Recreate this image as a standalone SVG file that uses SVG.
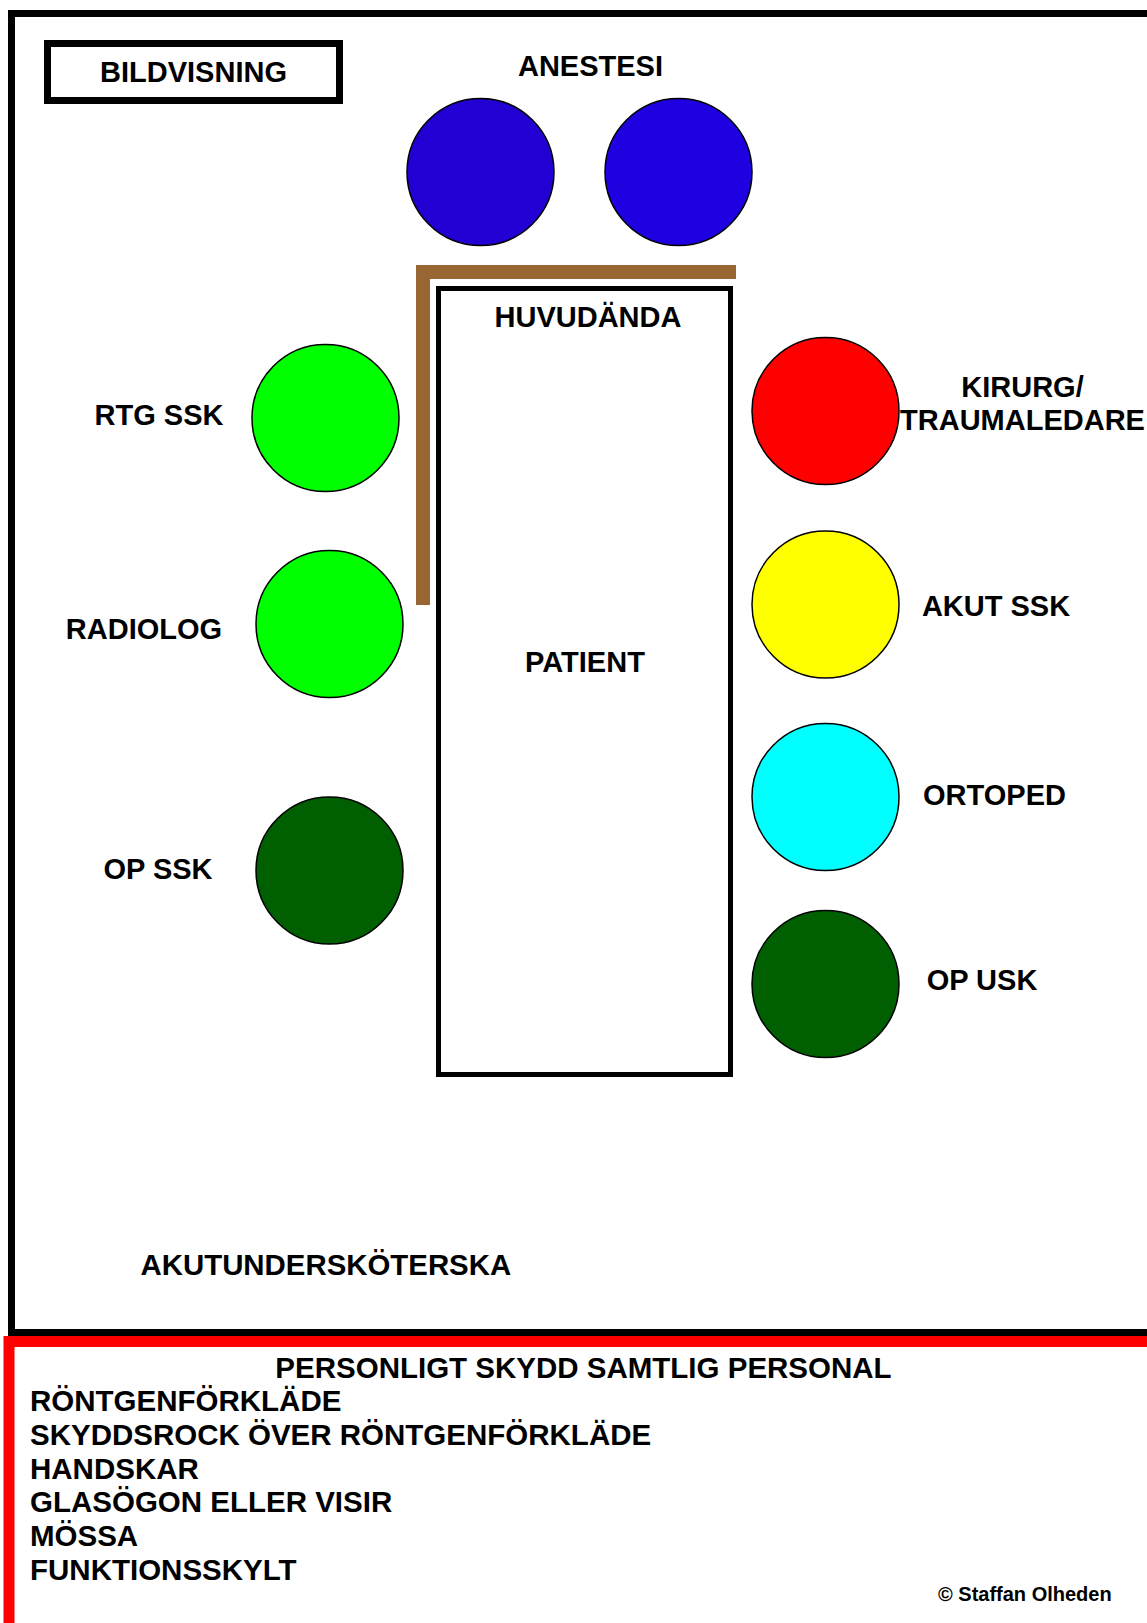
<svg xmlns="http://www.w3.org/2000/svg" width="1147" height="1623" viewBox="0 0 1147 1623">
<style>
text{font-family:"Liberation Sans",Arial,sans-serif;font-weight:bold;font-size:29px;fill:#000}
.m{text-anchor:middle}
.l{font-size:29.5px}
.p{stroke:#000;stroke-width:1.5}
</style>
<rect width="1147" height="1623" fill="#fff"/>
<g id="frame">
<rect x="11.5" y="13.5" width="1160" height="1319" fill="none" stroke="#000" stroke-width="7"/>
</g>
<g id="protection">
<rect x="9" y="1341.5" width="1160" height="320" fill="none" stroke="#ff0000" stroke-width="11"/>
<text class="m l" x="583.5" y="1378">PERSONLIGT SKYDD SAMTLIG PERSONAL</text>
<text class="l" x="30" y="1411">RÖNTGENFÖRKLÄDE</text>
<text class="l" x="30" y="1445">SKYDDSROCK ÖVER RÖNTGENFÖRKLÄDE</text>
<text class="l" x="30" y="1479">HANDSKAR</text>
<text class="l" x="30" y="1512">GLASÖGON ELLER VISIR</text>
<text class="l" x="30" y="1546">MÖSSA</text>
<text class="l" x="30" y="1580">FUNKTIONSSKYLT</text>
<text x="938" y="1601" style="font-size:20px">© Staffan Olheden</text>
</g>
<g id="bildvisning">
<rect x="47.5" y="43.5" width="292" height="57" fill="#fff" stroke="#000" stroke-width="7"/>
<text class="m" x="193.5" y="82">BILDVISNING</text>
</g>
<g id="anestesi">
<text class="m" x="590.5" y="76">ANESTESI</text>
<circle class="p" cx="480.5" cy="172" r="73.5" fill="#2200d4"/>
<circle class="p" cx="678.5" cy="172" r="73.5" fill="#1e00e0"/>
</g>
<g id="screen">
<polyline points="423,605 423,272 736,272" fill="none" stroke="#996633" stroke-width="14"/>
</g>
<g id="patient">
<rect x="438.5" y="288.5" width="292" height="786" fill="#fff" stroke="#000" stroke-width="5"/>
<text class="m" x="588" y="327">HUVUDÄNDA</text>
<text class="m" x="585" y="672">PATIENT</text>
</g>
<g id="rtg-ssk">
<circle class="p" cx="325.5" cy="418" r="73.5" fill="#00ff00"/>
<text class="m" x="159" y="425">RTG SSK</text>
</g>
<g id="radiolog">
<circle class="p" cx="329.5" cy="624" r="73.5" fill="#00ff00"/>
<text class="m" x="144" y="639">RADIOLOG</text>
</g>
<g id="op-ssk">
<circle class="p" cx="329.5" cy="870.5" r="73.5" fill="#005f00"/>
<text class="m" x="158" y="879">OP SSK</text>
</g>
<g id="kirurg">
<circle class="p" cx="825.5" cy="411" r="73.5" fill="#ff0000"/>
<text class="m" x="1022.5" y="397">KIRURG/</text>
<text class="m" x="1022.5" y="430">TRAUMALEDARE</text>
</g>
<g id="akut-ssk">
<circle class="p" cx="825.5" cy="604.5" r="73.5" fill="#ffff00"/>
<text class="m" x="996" y="616">AKUT SSK</text>
</g>
<g id="ortoped">
<circle class="p" cx="825.5" cy="797" r="73.5" fill="#00ffff"/>
<text class="m" x="994.5" y="805">ORTOPED</text>
</g>
<g id="op-usk">
<circle class="p" cx="825.5" cy="984" r="73.5" fill="#005f00"/>
<text class="m" x="982" y="990">OP USK</text>
</g>
<g id="akutunderskoterska">
<text x="140.5" y="1275" style="font-size:29.4px">AKUTUNDERSKÖTERSKA</text>
</g>
<g id="connectors"/>
</svg>
